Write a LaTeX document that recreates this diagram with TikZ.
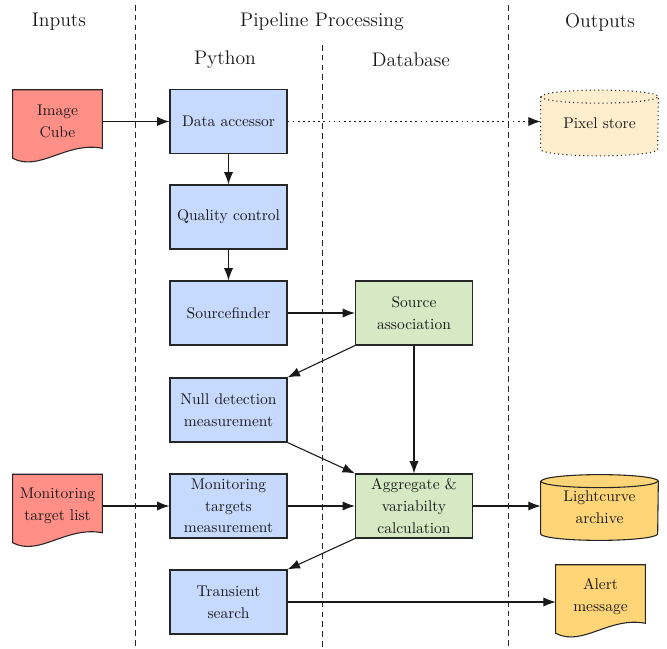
\documentclass[tikz,border=0pt]{standalone}
\usetikzlibrary{arrows.meta,calc,backgrounds}
\definecolor{pyblue}{RGB}{198,217,255}
\definecolor{dbgreen}{RGB}{213,234,196}
\definecolor{inred}{RGB}{255,143,135}
\definecolor{outorange}{RGB}{255,213,120}
\definecolor{outpale}{RGB}{255,238,206}
\newcommand\drawdocshape[2]{%
  \begin{pgfonlayer}{background}
  \draw[shapeline, fill=#2] (#1.north west) -- ($(#1.south west)+(0,5)$)
    .. controls ($(#1.south west)+(26.7,19)$) and ($(#1.south west)+(53.4,-12)$) ..
    ($(#1.south east)+(0,-5)$) -- (#1.north east) -- cycle;
  \end{pgfonlayer}}
\newcommand\drawcylshape[3]{%
  \begin{pgfonlayer}{background}
  \draw[shapeline, fill=#2, #3] ($(#1.north west)+(0,6.5)$) -- ($(#1.south west)+(0,-6.5)$)
    arc[start angle=180,end angle=360,x radius=37.73pt,y radius=4.2pt]
    -- ($(#1.north east)+(0,6.5)$)
    arc[start angle=0,end angle=180,x radius=37.73pt,y radius=4.2pt] -- cycle;
  \draw[shapeline, #3] ($(#1.north west)+(0,6.5)$)
    arc[start angle=180,end angle=360,x radius=37.73pt,y radius=4.2pt];
  \end{pgfonlayer}}
\begin{document}
\begin{tikzpicture}[x=0.645pt,y=-0.645pt,
  shapeline/.style={draw=black!85, line width=0.7pt},
  txt/.style={font=\fontsize{10}{14}\selectfont, align=center, text=black!90},
  proc/.style={txt, shapeline, fill=pyblue, minimum width=75.5pt, minimum height=41.3pt, inner sep=1pt},
  dbproc/.style={proc, fill=dbgreen},
  docnode/.style={txt, minimum width=57.4pt, minimum height=40.6pt, inner sep=1pt},
  storenode/.style={txt, minimum width=75.5pt, minimum height=42pt, inner sep=1pt},
  hdr/.style={font=\fontsize{12.7}{15}\selectfont, text=black!90},
  sep/.style={dash pattern=on 3.7pt off 2.6pt, line width=0.5pt, black!85},
  conn/.style={-{Latex[length=8pt,width=6pt]}, line width=0.7pt, black!90},
  dotconn/.style={conn, dash pattern=on 1.1pt off 2.2pt}
]
\useasboundingbox (0,0) rectangle (667,649);

% separators
\coordinate (s1t) at (135,5);   \coordinate (s1b) at (135,649);
\coordinate (s2t) at (322,45);  \coordinate (s2b) at (322,649);
\coordinate (s3t) at (508,5);   \coordinate (s3b) at (508,649);
\draw[sep] (s1t) -- (s1b);
\draw[sep] (s2t) -- (s2b);
\draw[sep] (s3t) -- (s3b);

% headers
\node[hdr] (hin) at (59,22) {Inputs};
\node[hdr] (hpp) at (322,22) {Pipeline Processing};
\node[hdr] (hout) at (600,22) {Outputs};
\node[hdr] (hpy) at (225,60) {Python};
\node[hdr] (hdb) at (411,60) {Database};

% python column
\node[proc] (da) at (228.5,121.5) {Data accessor};
\node[proc] (qc) at (228.5,217) {Quality control};
\node[proc] (sf) at (228.5,313) {Sourcefinder};
\node[proc] (nd) at (228.5,410) {Null detection\\measurement};
\node[proc] (mt) at (228.5,506) {Monitoring\\targets\\measurement};
\node[proc] (ts) at (228.5,602) {Transient\\search};

% database column
\node[dbproc] (sa) at (414,313) {Source\\association};
\node[dbproc] (ag) at (414,506) {Aggregate \&\\variabilty\\calculation};

% inputs
\node[docnode] (ic) at (57.5,121.5) {Image\\Cube};
\drawdocshape{ic}{inred}
\node[docnode] (mtl) at (57.5,506) {Monitoring\\target list};
\drawdocshape{mtl}{inred}

% outputs
\node[storenode] (ps) at (599.5,123) {Pixel store};
\drawcylshape{ps}{outpale}{dotted}
\node[storenode] (lc) at (599.5,507.5) {Lightcurve\\archive};
\drawcylshape{lc}{outorange}{solid}
\node[docnode] (am) at (600.5,596.5) {Alert\\message};
\drawdocshape{am}{outorange}

% connectors
\draw[conn] (ic.east |- da.west) -- (da.west);
\draw[dotconn] (da.east) -- (da.east -| ps.west);
\draw[conn] (da) -- (qc);
\draw[conn] (qc) -- (sf);
\draw[conn] (sf) -- (sa);
\draw[conn] (sa.south west) -- (nd.north east);
\draw[conn] (sa) -- (ag);
\draw[conn] (nd.south east) -- (ag.north west);
\draw[conn] (mtl.east |- mt.west) -- (mt.west);
\draw[conn] (mt) -- (ag);
\draw[conn] (ag.east) -- (ag.east -| lc.west);
\draw[conn] (ag.south west) -- (ts.north east);
\draw[conn] (ts.east) -- (ts.east -| am.west);
\end{tikzpicture}
\end{document}
